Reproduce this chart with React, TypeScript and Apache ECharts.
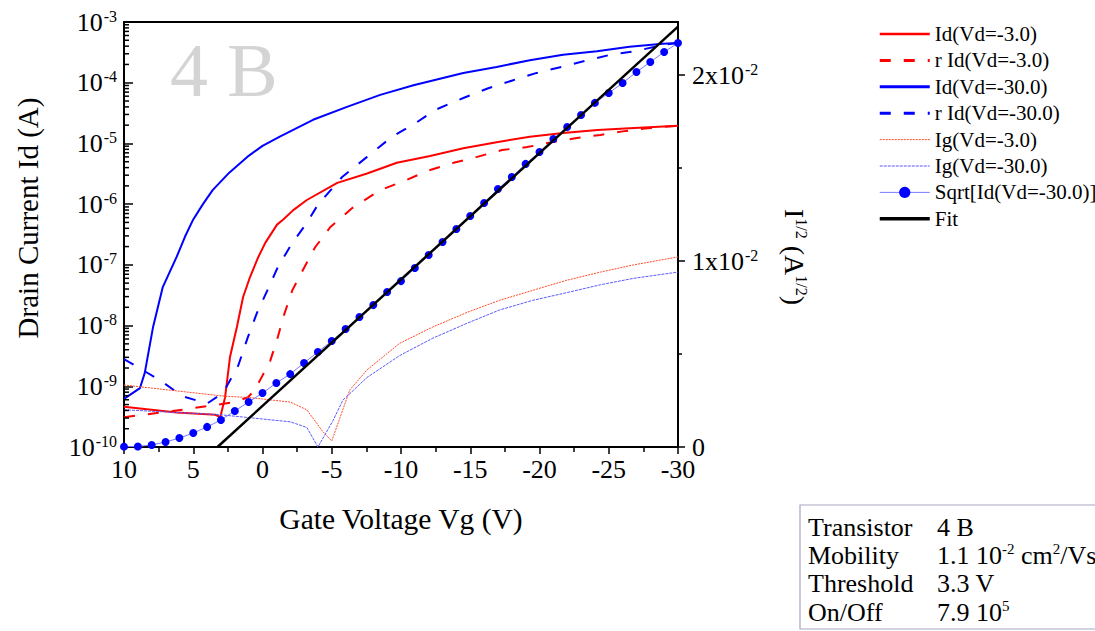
import React, { useEffect, useRef } from 'react';
import * as echarts from 'echarts';

const FONT = "'Liberation Serif', 'Times New Roman', Times, serif";

// ---------- labels ----------
const SERIES_NAMES = [
  'Id(Vd=-3.0)',
  'r Id(Vd=-3.0)',
  'Id(Vd=-30.0)',
  'r Id(Vd=-30.0)',
  'Ig(Vd=-3.0)',
  'Ig(Vd=-30.0)',
  'Sqrt[Id(Vd=-30.0)]',
  'Fit',
];
const X_TITLE = 'Gate Voltage Vg (V)';
const LEFT_TITLE = 'Drain Current Id (A)';
const RIGHT_TITLE = 'I{sup|1/2} (A{sup|1/2})';
const WATERMARK = '4 B';
const TABLE_KEYS = ['Transistor', 'Mobility', 'Threshold', 'On/Off'];
const TABLE_VALUES = ['4 B', '1.1 10{sup|-2} cm{sup|2}/Vs', '3.3 V', '7.9 10{sup|5}'];

// ---------- axes ----------
const X_MIN = -30;
const X_MAX = 10;
const X_INTERVAL = 5;
const LOG_MIN = 1e-10;
const LOG_MAX = 1e-3;
const LOG_DECADES = [1e-10, 1e-9, 1e-8, 1e-7, 1e-6, 1e-5, 1e-4];
const LOG_MULTIPLIERS = [2, 3, 4, 5, 6, 7, 8, 9];
const LOG_MINOR_TICKS = LOG_DECADES.flatMap((d) => LOG_MULTIPLIERS.map((m) => m * d));
const SQRT_MIN = 0;
const SQRT_MAX = 0.02285;
const SQRT_MAJOR_TICKS = [0, 0.01, 0.02];
const SQRT_MINOR_TICKS = [0.005, 0.015];

// ---------- data: [Vg (V), current (A)] ----------
const ID_VD3: [number, number][] = [
  [10, 4.6e-10], [6.2, 3.7e-10], [3.4, 3.4e-10], [3.05, 3.1e-10], [2.7, 6.6e-10],
  [2.35, 3.0e-9], [1.85, 9.5e-9], [1.4, 2.95e-8], [0.9, 6.3e-8], [0.3, 1.35e-7],
  [-0.2, 2.3e-7], [-1.05, 4.6e-7], [-1.5, 5.6e-7], [-2.2, 7.9e-7], [-3.2, 1.17e-6],
  [-5.4, 2.24e-6], [-7.55, 3.2e-6], [-9.7, 4.8e-6], [-12.1, 6.2e-6], [-14.5, 8.3e-6],
  [-16.9, 1.05e-5], [-19.3, 1.29e-5], [-21.7, 1.48e-5], [-24.2, 1.66e-5], [-26.5, 1.78e-5],
  [-30, 1.95e-5],
];

const RID_VD3: [number, number][] = [
  [10, 3.1e-10], [6.5, 3.9e-10], [4.0, 4.7e-10], [2.0, 5.5e-10], [1.05, 6.6e-10],
  [0.55, 8.7e-10], [0, 1.5e-9], [-0.55, 2.6e-9], [-1.05, 5.8e-9], [-1.5, 1.38e-8],
  [-2.15, 3.8e-8], [-2.9, 8.1e-8], [-3.8, 1.95e-7], [-4.9, 4.2e-7], [-6.5, 8.7e-7],
  [-8.5, 1.7e-6], [-10.4, 2.5e-6], [-12.0, 3.6e-6], [-13.8, 4.8e-6], [-15.5, 6.0e-6],
  [-17.3, 7.8e-6], [-19.1, 8.7e-6], [-20.9, 1.05e-5], [-22.7, 1.23e-5], [-24.4, 1.38e-5],
  [-26.0, 1.58e-5], [-27.8, 1.78e-5], [-30, 1.95e-5],
];

const ID_VD30: [number, number][] = [
  [10, 6.2e-10], [8.85, 9.3e-10], [8.5, 1.66e-9], [7.9, 9.5e-9], [7.2, 4.3e-8],
  [6.2, 1.35e-7], [5.6, 2.9e-7], [5.0, 5.6e-7], [4.3, 1.0e-6], [3.6, 1.7e-6],
  [2.4, 3.3e-6], [1.1, 6.0e-6], [0, 9.1e-6], [-1.25, 1.29e-5],
  [-3.65, 2.45e-5], [-6.1, 4.0e-5], [-8.5, 6.3e-5], [-10.9, 9.1e-5], [-14.5, 1.45e-4],
  [-16.9, 1.82e-4], [-19.3, 2.34e-4], [-21.7, 2.88e-4], [-24.15, 3.3e-4], [-26.5, 3.9e-4],
  [-28.9, 4.4e-4], [-30, 4.5e-4],
];

const RID_VD30: [number, number][] = [
  [10, 2.8e-9], [7.4, 1.26e-9], [5.8, 6.9e-10], [4.0, 5.2e-10], [2.85, 7.8e-10],
  [1.75, 2.2e-9], [1.05, 6.5e-9], [0.4, 1.62e-8], [-0.35, 3.8e-8], [-1.1, 9.1e-8],
  [-2.15, 2.3e-7], [-3.2, 4.9e-7], [-4.0, 9.8e-7], [-5.75, 2.8e-6], [-7.55, 6.0e-6],
  [-9.35, 1.29e-5], [-11.15, 2.24e-5], [-12.45, 3.55e-5], [-14.5, 5.6e-5], [-16.3, 8.1e-5],
  [-18.1, 1.1e-4], [-19.8, 1.45e-4], [-21.6, 1.82e-4], [-23.3, 2.29e-4], [-25.1, 2.88e-4],
  [-26.9, 3.3e-4], [-28.9, 4.2e-4], [-30, 4.5e-4],
];

const IG_VD3: [number, number][] = [
  [10, 1.05e-9], [2.85, 6.9e-10], [0.9, 6.5e-10], [-2.0, 5.5e-10], [-3.2, 4.1e-10],
  [-4.35, 1.8e-10], [-5.0, 1.26e-10], [-5.8, 4.1e-10], [-6.3, 8.7e-10], [-7.55, 1.86e-9],
  [-9.9, 5.1e-9], [-12.3, 9.5e-9], [-14.8, 1.66e-8], [-17.1, 2.6e-8], [-19.5, 3.8e-8],
  [-22.0, 5.6e-8], [-24.4, 7.6e-8], [-26.8, 1.0e-7], [-30, 1.35e-7],
];

const IG_VD30: [number, number][] = [
  [10, 4.1e-10], [3.05, 3.4e-10], [-2.0, 2.6e-10], [-3.2, 2.1e-10], [-4.0, 1.0e-10],
  [-5.1, 2.75e-10], [-5.8, 5.9e-10], [-7.55, 1.4e-9], [-9.9, 3.2e-9], [-12.3, 6.2e-9],
  [-14.8, 1.1e-8], [-17.1, 1.8e-8], [-19.5, 2.6e-8], [-22.0, 3.5e-8], [-24.4, 4.7e-8],
  [-26.8, 6.0e-8], [-30, 7.6e-8],
];

// Sqrt[Id(Vd=-30)] (A^1/2), one point per volt
const SQRT_VG = [
  10, 9, 8, 7, 6, 5, 4, 3, 2, 1, 0, -1, -2, -3, -4, -5, -6, -7, -8, -9, -10,
  -11, -12, -13, -14, -15, -16, -17, -18, -19, -20, -21, -22, -23, -24, -25,
  -26, -27, -28, -29, -30,
];
const SQRT_ID30 = [
  0.00002, 0.00003, 0.00011, 0.00027, 0.00048, 0.00075, 0.00108, 0.00145, 0.00194, 0.00242,
  0.0029, 0.00344, 0.00392, 0.00452, 0.00511, 0.0057, 0.00634, 0.00699, 0.00763, 0.00833,
  0.00892, 0.00962, 0.01032, 0.01102, 0.01172, 0.01242, 0.01312, 0.01387, 0.01452, 0.01522,
  0.01586, 0.01656, 0.0172, 0.01785, 0.0185, 0.01903, 0.01957, 0.02016, 0.0207, 0.02124,
  0.02172,
];

// Linear fit of the sqrt curve: [Vg, sqrt(Id)]
const FIT_LINE: [number, number][] = [
  [3.25, 0],
  [-30, 0.0226],
];

const BLACK = '#000000';
const axisLine = { show: true, onZero: false, lineStyle: { color: BLACK, width: 2 } };
const tickLine = { color: BLACK, width: 1.5 };
const supStyle = (size: number) => ({
  fontSize: size,
  lineHeight: size,
  fontFamily: FONT,
  color: BLACK,
  verticalAlign: 'top',
  padding: [0, 0, 0, 1],
});

function buildOption(): any {
  const sqrtData = SQRT_VG.map((v, i) => [v, SQRT_ID30[i]]);
  const dash: number[] = [11, 13];
  const noSymbol = { opacity: 0 };

  return {
    animation: false,
    backgroundColor: '#ffffff',
    textStyle: { fontFamily: FONT },
    grid: {
      left: 124,
      right: 417,
      top: 22,
      bottom: 184,
      containLabel: false,
      outerBoundsMode: 'none',
    },
    legend: {
      orient: 'vertical',
      left: 873,
      top: 18,
      itemWidth: 50,
      itemHeight: 14,
      itemGap: 4.4,
      selectedMode: false,
      textStyle: { fontFamily: FONT, fontSize: 21, color: BLACK, lineHeight: 22 },
      data: [
        { name: SERIES_NAMES[0], lineStyle: { width: 2.5 }, itemStyle: noSymbol },
        { name: SERIES_NAMES[1], lineStyle: { width: 3 }, itemStyle: noSymbol },
        { name: SERIES_NAMES[2], lineStyle: { width: 3 }, itemStyle: noSymbol },
        { name: SERIES_NAMES[3], lineStyle: { width: 3 }, itemStyle: noSymbol },
        { name: SERIES_NAMES[4], lineStyle: { width: 1 }, itemStyle: noSymbol },
        { name: SERIES_NAMES[5], lineStyle: { width: 1 }, itemStyle: noSymbol },
        { name: SERIES_NAMES[6], lineStyle: { width: 1 } },
        { name: SERIES_NAMES[7], lineStyle: { width: 3.5 }, itemStyle: noSymbol },
      ],
    },
    xAxis: [
      {
        type: 'value',
        min: X_MIN,
        max: X_MAX,
        interval: X_INTERVAL,
        inverse: true,
        position: 'bottom',
        axisLine,
        axisTick: { show: true, inside: false, length: 7, lineStyle: tickLine },
        minorTick: { show: true, splitNumber: 2, length: 5, lineStyle: tickLine },
        splitLine: { show: false },
        minorSplitLine: { show: false },
        axisLabel: {
          margin: 9,
          fontSize: 26,
          fontFamily: FONT,
          color: BLACK,
          formatter: (v: number) => String(v),
        },
        name: X_TITLE,
        nameLocation: 'middle',
        nameGap: 57,
        nameTextStyle: { fontSize: 29.5, fontFamily: FONT, color: BLACK },
      },
      {
        type: 'value',
        min: X_MIN,
        max: X_MAX,
        inverse: true,
        position: 'top',
        axisLine,
        axisTick: { show: false },
        axisLabel: { show: false },
        splitLine: { show: false },
      },
    ],
    yAxis: [
      {
        type: 'log',
        logBase: 10,
        min: LOG_MIN,
        max: LOG_MAX,
        position: 'left',
        axisLine,
        axisTick: { show: true, inside: true, length: 9, lineStyle: tickLine },
        splitLine: { show: false },
        axisLabel: {
          margin: 7,
          fontSize: 26,
          lineHeight: 28,
          fontFamily: FONT,
          color: BLACK,
          formatter: (v: number) => `10{sup|${Math.round(Math.log10(v))}}`,
          rich: { sup: supStyle(16) },
        },
      },
      {
        type: 'value',
        min: SQRT_MIN,
        max: SQRT_MAX,
        interval: 0.01,
        position: 'right',
        axisLine,
        axisTick: {
          show: true,
          inside: false,
          length: 7,
          lineStyle: tickLine,
          customValues: SQRT_MAJOR_TICKS,
        },
        splitLine: { show: false },
        axisLabel: {
          margin: 14,
          fontSize: 26,
          lineHeight: 28,
          fontFamily: FONT,
          color: BLACK,
          customValues: SQRT_MAJOR_TICKS,
          formatter: (v: number) =>
            Math.abs(v) < 1e-9 ? '0' : `${Math.round(v * 100)}x10{sup|-2}`,
          rich: { sup: supStyle(16) },
        },
      },
    ],
    series: [
      {
        name: SERIES_NAMES[0],
        type: 'line',
        data: ID_VD3,
        symbol: 'none',
        lineStyle: { color: '#ff0000', width: 2 },
        itemStyle: { color: '#ff0000' },
        z: 3,
      },
      {
        name: SERIES_NAMES[1],
        type: 'line',
        data: RID_VD3,
        symbol: 'none',
        lineStyle: { color: '#ff0000', width: 2, type: dash },
        itemStyle: { color: '#ff0000' },
        z: 3,
      },
      {
        name: SERIES_NAMES[2],
        type: 'line',
        data: ID_VD30,
        symbol: 'none',
        lineStyle: { color: '#0000ff', width: 2 },
        itemStyle: { color: '#0000ff' },
        z: 3,
      },
      {
        name: SERIES_NAMES[3],
        type: 'line',
        data: RID_VD30,
        symbol: 'none',
        lineStyle: { color: '#0000ff', width: 2, type: dash },
        itemStyle: { color: '#0000ff' },
        z: 3,
      },
      {
        name: SERIES_NAMES[4],
        type: 'line',
        data: IG_VD3,
        symbol: 'none',
        lineStyle: { color: '#ff4a2a', width: 1, type: [2, 1] },
        itemStyle: { color: '#ff4a2a' },
        z: 3,
      },
      {
        name: SERIES_NAMES[5],
        type: 'line',
        data: IG_VD30,
        symbol: 'none',
        lineStyle: { color: '#5a5aff', width: 1, type: [3, 1] },
        itemStyle: { color: '#5a5aff' },
        z: 3,
      },
      {
        name: SERIES_NAMES[6],
        type: 'line',
        yAxisIndex: 1,
        data: sqrtData,
        symbol: 'circle',
        symbolSize: 8,
        showSymbol: true,
        showAllSymbol: true,
        lineStyle: { color: '#7a7aff', width: 1 },
        itemStyle: { color: '#0000ff' },
        z: 4,
      },
      {
        name: SERIES_NAMES[7],
        type: 'line',
        yAxisIndex: 1,
        data: FIT_LINE,
        symbol: 'none',
        lineStyle: { color: BLACK, width: 2.5 },
        itemStyle: { color: BLACK },
        z: 5,
      },
      {
        name: 'log-minor-ticks',
        type: 'custom',
        yAxisIndex: 0,
        silent: true,
        data: LOG_MINOR_TICKS.map((v) => [X_MAX, v]),
        renderItem: (_params: any, api: any) => {
          const p = api.coord([X_MAX, api.value(1)]);
          return {
            type: 'line',
            shape: { x1: p[0], y1: p[1], x2: p[0] + 5, y2: p[1] },
            style: { stroke: BLACK, lineWidth: 1.5 },
          };
        },
        z: 6,
      },
      {
        name: 'sqrt-minor-ticks',
        type: 'custom',
        yAxisIndex: 1,
        silent: true,
        data: SQRT_MINOR_TICKS.map((v) => [X_MIN, v]),
        renderItem: (_params: any, api: any) => {
          const p = api.coord([X_MIN, api.value(1)]);
          return {
            type: 'line',
            shape: { x1: p[0], y1: p[1], x2: p[0] + 4, y2: p[1] },
            style: { stroke: BLACK, lineWidth: 1.5 },
          };
        },
        z: 6,
      },
    ],
    graphic: [
      {
        type: 'text',
        x: 170,
        y: 70,
        z: 0,
        style: {
          text: WATERMARK,
          fontSize: 76,
          fontFamily: FONT,
          fill: '#d4d4d4',
          align: 'left',
          verticalAlign: 'middle',
        },
      },
      {
        type: 'text',
        x: 28,
        y: 218,
        rotation: Math.PI / 2,
        style: {
          text: LEFT_TITLE,
          fontSize: 29,
          fontFamily: FONT,
          fill: BLACK,
          align: 'center',
          verticalAlign: 'middle',
        },
      },
      {
        type: 'text',
        x: 794,
        y: 257,
        rotation: -Math.PI / 2,
        style: {
          text: RIGHT_TITLE,
          fontSize: 28,
          lineHeight: 30,
          fontFamily: FONT,
          fill: BLACK,
          align: 'center',
          verticalAlign: 'middle',
          rich: {
            sup: {
              fontSize: 16,
              lineHeight: 16,
              fontFamily: FONT,
              fill: BLACK,
              verticalAlign: 'top',
            },
          },
        },
      },
      {
        type: 'rect',
        shape: { x: 800, y: 505, width: 300, height: 124 },
        style: { fill: 'transparent', stroke: '#a9a3c4', lineWidth: 1.2 },
      },
      ...TABLE_KEYS.map((k, i) => ({
        type: 'text',
        x: 808,
        y: 527 + i * 28.4,
        style: {
          text: k,
          fontSize: 26,
          fontFamily: FONT,
          fill: BLACK,
          align: 'left',
          verticalAlign: 'middle',
        },
      })),
      ...TABLE_VALUES.map((t, i) => ({
        type: 'text',
        x: 937,
        y: 527 + i * 28.4,
        style: {
          text: t,
          fontSize: 26,
          lineHeight: 28,
          fontFamily: FONT,
          fill: BLACK,
          align: 'left',
          verticalAlign: 'middle',
          rich: {
            sup: {
              fontSize: 15,
              lineHeight: 15,
              fontFamily: FONT,
              fill: BLACK,
              verticalAlign: 'top',
            },
          },
        },
      })),
    ],
  };
}

export default function App() {
  const ref = useRef<HTMLDivElement>(null);
  useEffect(() => {
    if (!ref.current) return;
    const chart = echarts.init(ref.current, null, { renderer: 'svg' });
    chart.setOption(buildOption());
    return () => {
      chart.dispose();
    };
  }, []);
  return (
    <div
      ref={ref}
      style={{
        position: 'absolute',
        left: 0,
        top: 0,
        width: 1095,
        height: 631,
        background: '#ffffff',
      }}
    />
  );
}
